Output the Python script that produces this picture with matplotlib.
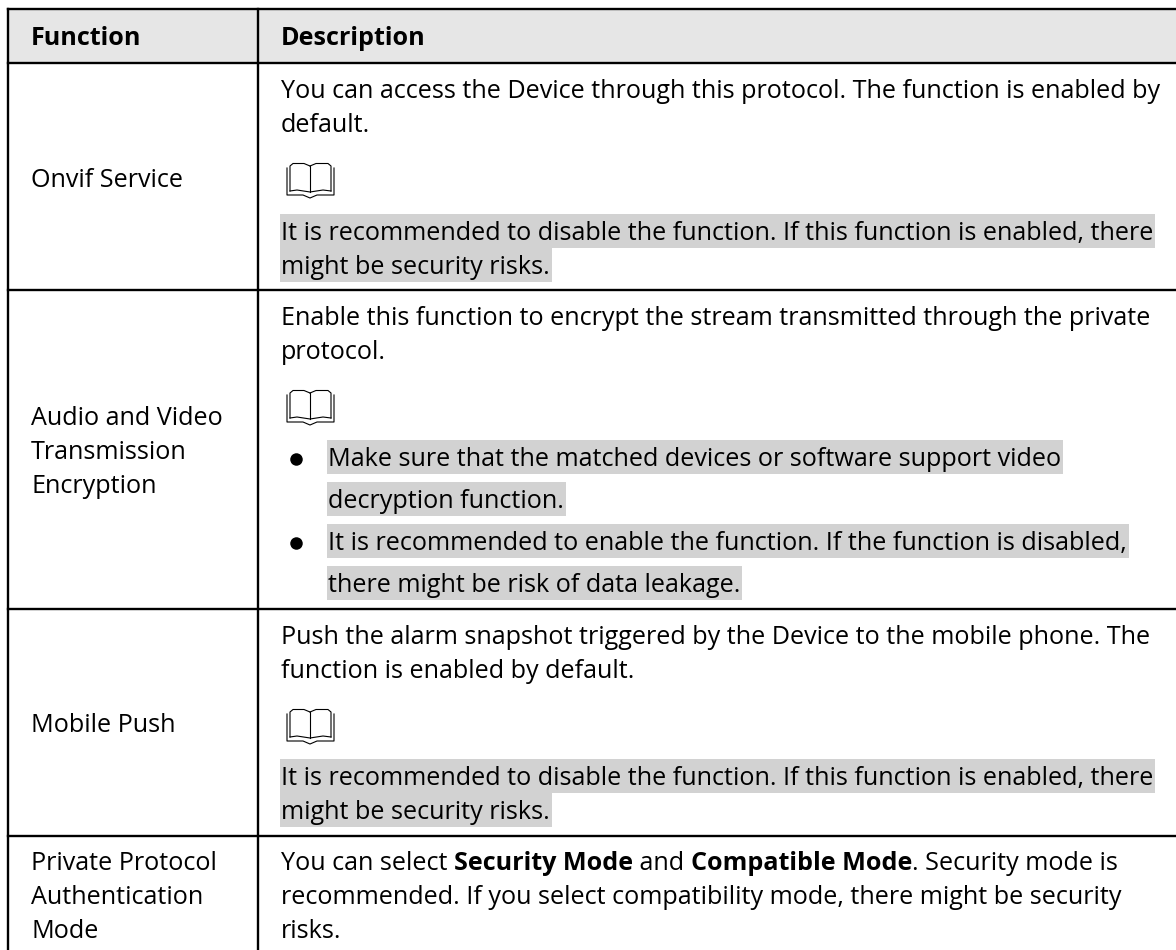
import matplotlib
matplotlib.use("Agg")
import matplotlib.pyplot as plt
from matplotlib.patches import Rectangle

W, H = 1176, 950
FONT = "Open Sans"
FS = 18.05
HL = "#d2d2d2"

header = ["Function", "Description"]
functions = [["Onvif Service"],
             ["Audio and Video", "Transmission", "Encryption"],
             ["Mobile Push"],
             ["Private Protocol", "Authentication", "Mode"]]

onvif_text = ["You can access the Device through this protocol. The function is enabled by",
              "default."]
onvif_note = ["It is recommended to disable the function. If this function is enabled, there",
              "might be security risks."]
encrypt_text = ["Enable this function to encrypt the stream transmitted through the private",
                "protocol."]
encrypt_note = ["Make sure that the matched devices or software support video",
                "decryption function.",
                "It is recommended to enable the function. If the function is disabled,",
                "there might be risk of data leakage."]
push_text = ["Push the alarm snapshot triggered by the Device to the mobile phone. The",
             "function is enabled by default."]
push_note = ["It is recommended to disable the function. If this function is enabled, there",
             "might be security risks."]
private_first = [("You can select ", "normal"), ("Security Mode", "bold"), (" and ", "normal"),
                 ("Compatible Mode", "bold"), (". Security mode is", "normal")]
private_text = ["recommended. If you select compatibility mode, there might be security",
                "risks."]

# layout in pixels
LEFT, MID, TOP = 8, 258, 9
rules = [63, 290, 609, 836]
func_base = [[187], [425, 459, 493], [732], [870, 904, 938]]
LINE = 34

plt.rcParams["font.family"] = [FONT, "DejaVu Sans"]

fig = plt.figure(figsize=(W / 100, H / 100), dpi=100)
ax = fig.add_axes([0, 0, 1, 1])
ax.set_xlim(0, W)
ax.set_ylim(H, 0)
ax.axis("off")
renderer = fig.canvas.get_renderer()


def text(x, y, s, **kw):
    return ax.text(x, y, s, fontsize=FS, color="black", va="baseline", ha="left", zorder=3, **kw)


def highlight(x, top, s):
    # grey band behind one line, sized from the rendered text
    t = text(x, top + 26, s)
    bb = t.get_window_extent(renderer)
    ax.add_patch(Rectangle((x - 1, top), bb.width + 3, LINE, fc=HL, ec="none", zorder=1))


def book(x, y):
    # open book note icon, 47 x 35 px
    k = dict(color="black", lw=0.8, zorder=3)
    ax.plot([x + 23, x + 23], [y + 3, y + 29], **k)
    ax.plot([x + 23, x + 17, x + 6, x + 3, x + 3], [y + 3, y + 0.5, y + 0.5, y + 3, y + 28], **k)
    ax.plot([x + 23, x + 29, x + 41, x + 44, x + 44], [y + 3, y + 0.5, y + 0.5, y + 3, y + 28], **k)
    ax.plot([x + 3, x + 10, x + 23, x + 36, x + 44], [y + 28, y + 27, y + 29, y + 27, y + 28], **k)
    ax.plot([x, x, x + 16, x + 23, x + 30, x + 47, x + 47], [y + 5, y + 32, y + 32, y + 35, y + 32, y + 32, y + 5], **k)


ax.add_patch(Rectangle((LEFT, TOP), W - LEFT, rules[0] - TOP, fc="#e6e6e6", ec="none", zorder=0))
for y in [TOP] + rules:
    ax.plot([LEFT, W], [y, y], color="black", lw=1.7, solid_capstyle="projecting", zorder=4)
for x in [LEFT, MID]:
    ax.plot([x, x], [TOP, H], color="black", lw=1.7, zorder=4)

text(31, 45, header[0], fontweight="bold")
text(281, 45, header[1], fontweight="bold")

for lines, bases in zip(functions, func_base):
    for s, y in zip(lines, bases):
        text(31, y, s)

X = 281
for s, y in zip(onvif_text, [98, 132]):
    text(X, y, s)
book(287, 163)
for s, top in zip(onvif_note, [214, 248]):
    highlight(X, top, s)

for s, y in zip(encrypt_text, [325, 359]):
    text(X, y, s)
book(287, 390)
for s, top in zip(encrypt_note, [440, 482, 524, 566]):
    highlight(328, top, s)
for y in [459, 543]:
    ax.plot([296], [y], "o", color="black", ms=9, mew=0, zorder=3)

for s, y in zip(push_text, [644, 678]):
    text(X, y, s)
book(287, 709)
for s, top in zip(push_note, [759, 793]):
    highlight(X, top, s)

x = X
for s, weight in private_first:
    t = text(x, 870, s, fontweight=weight)
    x = t.get_window_extent(renderer).x1
for s, y in zip(private_text, [904, 938]):
    text(X, y, s)

fig.savefig("out.png", dpi=100)
